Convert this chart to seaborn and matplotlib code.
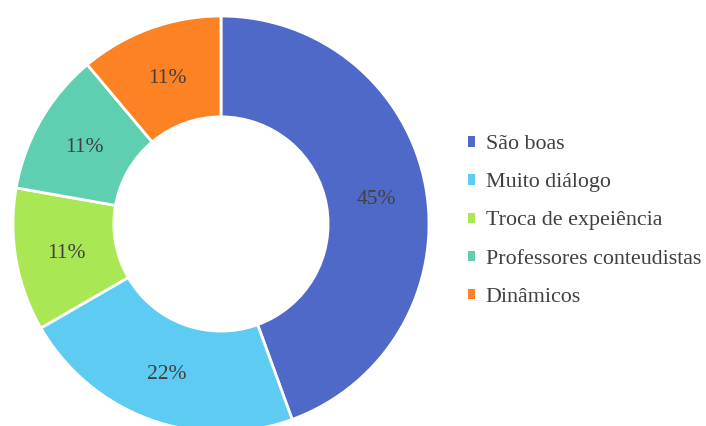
import matplotlib
matplotlib.use("Agg")
import matplotlib.pyplot as plt
import seaborn as sns

categorias = ['São boas', 'Muito diálogo', 'Troca de expeiência',
              'Professores conteudistas', 'Dinâmicos']
valores = [44.4, 22.2, 11.1, 11.1, 11.1]
rotulos = ['45%', '22%', '11%', '11%', '11%']
cores = ['#4F69C9', '#5ECBF3', '#A9E854', '#5ECFB0', '#FD8223']

sns.set_theme(style="white")
plt.rcParams['font.family'] = ['Liberation Serif', 'DejaVu Serif']

W, H = 706, 426
fig = plt.figure(figsize=(W / 100, H / 100), dpi=100)
cx, cy, R = 221, 426 - 224, 208
ax = fig.add_axes([(cx - R) / W, (cy - R) / H, 2 * R / W, 2 * R / H])

contador = iter(rotulos)
wedges, textos, pcts = ax.pie(
    valores, colors=cores, startangle=90, counterclock=False,
    autopct=lambda p: next(contador), pctdistance=0.757, radius=1,
    wedgeprops=dict(width=0.485, edgecolor='white', linewidth=2),
    textprops=dict(color='#404040', fontsize=15.5))
for t in pcts:
    t.set_va('center_baseline')
ax.set_xlim(-1, 1)
ax.set_ylim(-1, 1)
ax.set_aspect('equal')
ax.axis('off')

leg = fig.legend(wedges, categorias, loc='center left',
                 bbox_to_anchor=(468 / W, 205 / H), frameon=False,
                 fontsize=15.8, handlelength=0.34, handleheight=0.34,
                 handletextpad=0.47, labelspacing=0.87,
                 borderpad=0, borderaxespad=0)
for t in leg.get_texts():
    t.set_color('#404040')
for h in leg.legend_handles:
    h.set_edgecolor('none')

fig.savefig('out.png', dpi=100)
